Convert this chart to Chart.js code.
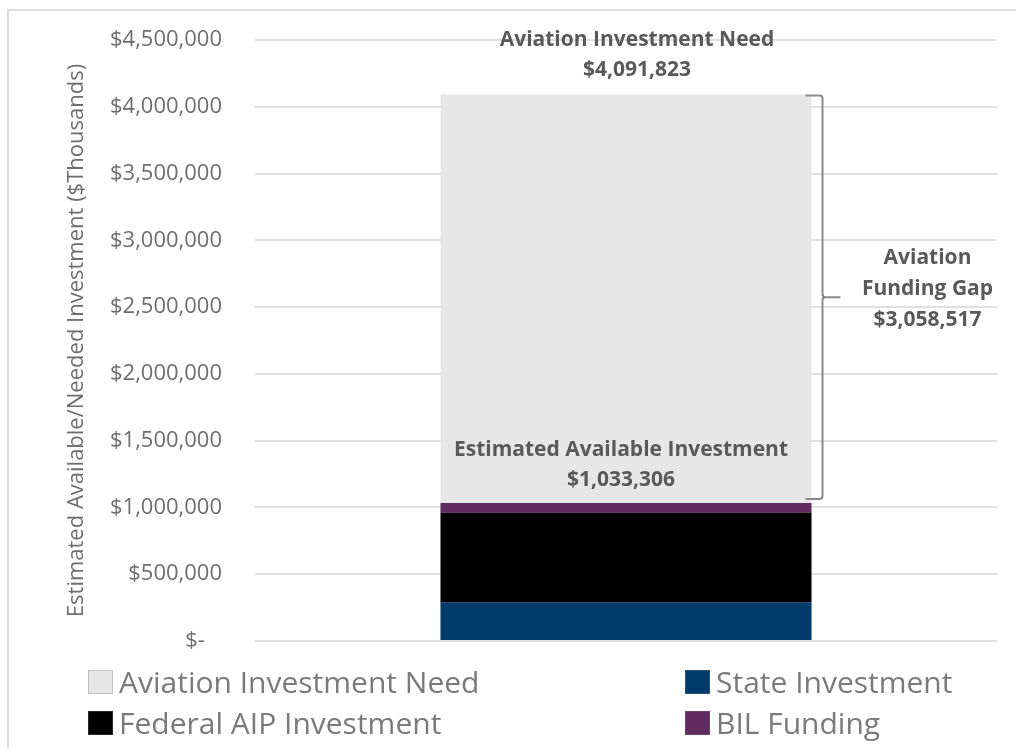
<!DOCTYPE html>
<html>
<head>
<meta charset="utf-8">
<script src="https://cdn.jsdelivr.net/npm/chart.js@4.4.1/dist/chart.umd.min.js"></script>
<style>
  html, body { margin: 0; padding: 0; background: #fff; }
  #wrap { position: relative; width: 1016px; height: 748px; overflow: hidden; font-family: 'Open Sans', sans-serif; }
  #frame { position: absolute; left: 7px; top: 9px; width: 1100px; height: 900px; border: 2px solid #dcdcdc; box-sizing: border-box; }
  #chart-box { position: absolute; left: 0; top: 0; width: 1016px; height: 748px; }
  .legend-item { position: absolute; display: flex; align-items: center; font-size: 30px; color: #7a7a7a; white-space: nowrap; }
  .legend-item .swatch { width: 25px; height: 24px; margin-right: 6px; box-sizing: border-box; border: 1px solid rgba(120,120,120,0.35); }
</style>
</head>
<body>
<div id="wrap">
  <div id="frame"></div>
  <div id="chart-box"><canvas id="funding-canvas"></canvas></div>
  <div id="legend"></div>
</div>
<script>
const categories = [''];
const stateInvestment = [290000];
const federalAipInvestment = [670000];
const bilFunding = [73306];
const aviationNeed = [4091823];
const yTicks = [0, 500000, 1000000, 1500000, 2000000, 2500000, 3000000, 3500000, 4000000, 4500000];

const available = stateInvestment[0] + federalAipInvestment[0] + bilFunding[0];
const fundingGap = aviationNeed[0] - available;

const money = v => '$' + Math.round(v).toLocaleString('en-US');
const labelColor = '#595959';

// brace + value callouts drawn on top of the bars
const calloutPlugin = {
  id: 'callouts',
  afterDatasetsDraw(chart) {
    const { ctx, scales: { y } } = chart;
    const bar = chart.getDatasetMeta(0).data[0];
    const cx = bar.x;
    const right = bar.x + bar.width / 2;
    const needTop = y.getPixelForValue(aviationNeed[0]);
    const availTop = y.getPixelForValue(available);

    ctx.save();
    ctx.fillStyle = labelColor;
    ctx.font = 'bold 21px "Open Sans", sans-serif';
    ctx.textAlign = 'center';
    ctx.textBaseline = 'middle';

    ctx.fillText('Aviation Investment Need', cx + 11, needTop - 54);
    ctx.fillText(money(aviationNeed[0]), cx + 11, needTop - 24);

    ctx.fillText('Estimated Available Investment', cx - 5, availTop - 53);
    ctx.fillText(money(available), cx - 5, availTop - 23);

    // curly brace spanning the gap
    const bx = right + 11;
    const top = needTop + 1;
    const bottom = availTop - 4;
    const mid = (top + bottom) / 2;
    ctx.strokeStyle = '#8a8a8a';
    ctx.lineWidth = 2;
    ctx.beginPath();
    ctx.moveTo(right - 6, top);
    ctx.lineTo(bx - 3, top);
    ctx.quadraticCurveTo(bx, top, bx, top + 3);
    ctx.lineTo(bx, mid - 3);
    ctx.quadraticCurveTo(bx, mid, bx + 3, mid);
    ctx.lineTo(bx + 18, mid);
    ctx.moveTo(bx + 3, mid);
    ctx.quadraticCurveTo(bx, mid, bx, mid + 3);
    ctx.lineTo(bx, bottom - 3);
    ctx.quadraticCurveTo(bx, bottom, bx - 3, bottom);
    ctx.lineTo(right - 6, bottom);
    ctx.stroke();

    const gx = bx + 105;
    ctx.fillText('Aviation', gx, mid - 39);
    ctx.fillText('Funding Gap', gx, mid - 8);
    ctx.fillText(money(fundingGap), gx, mid + 23);
    ctx.restore();
  }
};

// available funding stacks together; the need bar sits behind it in its own stack
const datasets = [
  { label: 'State Investment', data: stateInvestment, backgroundColor: '#003b6b', stack: 'available', order: 0 },
  { label: 'Federal AIP Investment', data: federalAipInvestment, backgroundColor: '#000000', stack: 'available', order: 0 },
  { label: 'BIL Funding', data: bilFunding, backgroundColor: '#5f2b60', stack: 'available', order: 0 },
  { label: 'Aviation Investment Need', data: aviationNeed, backgroundColor: '#e7e7e7', stack: 'need', order: 1 }
];

new Chart(document.getElementById('funding-canvas'), {
  type: 'bar',
  data: { labels: categories, datasets },
  options: {
    responsive: true,
    maintainAspectRatio: false,
    animation: false,
    grouped: false,
    categoryPercentage: 1,
    barPercentage: 0.5,
    layout: { padding: { left: 0, right: 19, top: 40, bottom: 107 } },
    plugins: { legend: { display: false }, tooltip: { enabled: false } },
    scales: {
      x: { stacked: true, display: false },
      y: {
        stacked: true,
        min: 0,
        max: 4500000,
        afterBuildTicks: (scale) => { scale.ticks = yTicks.map(v => ({ value: v })); },
        afterFit: (scale) => { scale.width = 255; },
        border: { display: false },
        // invisible tick marks push the labels away from the plot
        grid: { color: '#e0e0e0', lineWidth: 2, drawTicks: true, tickLength: 33, tickColor: 'rgba(0,0,0,0)' },
        ticks: {
          padding: 0,
          color: '#6e6e6e',
          font: { family: 'Open Sans', size: 22 },
          callback: (v) => v === 0 ? '$-   ' : money(v)
        },
        title: {
          display: true,
          text: 'Estimated Available/Needed Investment ($Thousands)',
          color: '#6e6e6e',
          font: { family: 'Open Sans', size: 22 },
          padding: { top: 64, bottom: 0 }
        }
      }
    }
  },
  plugins: [calloutPlugin]
});

// two-column legend under the plot
const legendLayout = [
  { i: 3, left: 88, top: 670 },
  { i: 0, left: 685, top: 670 },
  { i: 1, left: 88, top: 711 },
  { i: 2, left: 685, top: 711 }
];
const legendEl = document.getElementById('legend');
legendLayout.forEach(({ i, left, top }) => {
  const ds = datasets[i];
  const item = document.createElement('div');
  item.className = 'legend-item';
  item.style.left = left + 'px';
  item.style.top = (top - 9) + 'px';
  item.innerHTML = `<span class="swatch" style="background:${ds.backgroundColor}"></span><span>${ds.label}</span>`;
  legendEl.appendChild(item);
});
</script>
</body>
</html>
